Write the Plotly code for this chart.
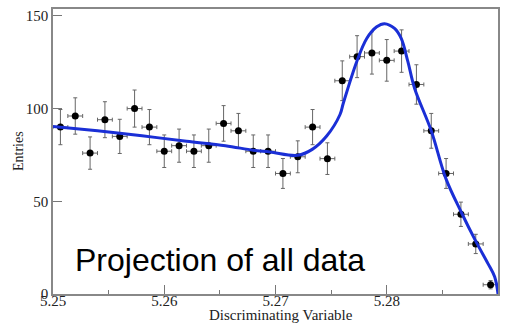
import numpy as np
import plotly.graph_objects as go

# ---- data ----
n_bins = 30
x_lo, x_hi = 5.25, 5.29
counts = [90, 96, 76, 94, 85, 100, 90, 77, 80, 77,
          80, 92, 88, 77, 77, 65, 74, 90, 73, 115,
          128, 130, 126, 131, 113, 88, 65, 43, 27, 5]

fit_x = [5.2500, 5.2540, 5.2580, 5.2620, 5.2655, 5.2680, 5.2695, 5.2720,
         5.2733, 5.2746, 5.2758, 5.2761, 5.2773, 5.2782, 5.2791, 5.2798,
         5.2807, 5.2813, 5.2819, 5.2825, 5.2840, 5.2853, 5.2867, 5.2880,
         5.2891, 5.2897, 5.2900]
fit_y = [90.4, 88.0, 85.3, 82.4, 80.0, 77.5, 76.6, 74.8,
         78.0, 85.2, 96.8, 103.0, 125.3, 137.8, 144.1, 145.8,
         143.2, 137.8, 125.3, 111.0, 88.0, 62.5, 44.1, 28.5,
         16.4, 9.3, 0.0]

x_ticks = [5.25, 5.26, 5.27, 5.28, 5.29]
x_tick_labels = ["5.25", "5.26", "5.27", "5.28", "5.29"]
y_ticks = [0, 50, 100, 150]
y_tick_labels = ["0", "50", "100", "150"]

bw = (x_hi - x_lo) / n_bins
centers = [x_lo + (i + 0.5) * bw for i in range(n_bins)]
yerr = [float(np.sqrt(c)) for c in counts]

fig = go.Figure()
fig.add_trace(go.Scatter(
    x=centers, y=counts, mode="markers",
    marker=dict(color="black", size=7),
    error_y=dict(type="data", array=yerr, color="#666666", thickness=1, width=2),
    error_x=dict(type="constant", value=bw / 2, color="#666666", thickness=1, width=2),
    showlegend=False,
))
fig.add_trace(go.Scatter(
    x=fit_x, y=fit_y, mode="lines",
    line=dict(color="#1a2fd6", width=3, shape="spline", smoothing=1.0),
    showlegend=False,
))

L, R, T, B = 52.5, 498.3, 7, 294
W, H = 510, 326

axis_font = dict(family="Liberation Serif", size=15, color="#222222")
fig.update_layout(
    width=W, height=H,
    margin=dict(l=L, r=W - R, t=T, b=H - B, pad=0),
    paper_bgcolor="white", plot_bgcolor="white",
    xaxis=dict(range=[x_lo, x_hi], tickvals=x_ticks, ticktext=x_tick_labels,
               ticks="inside", ticklen=9, tickcolor="#777777", tickwidth=1,
               ticklabelstandoff=-8,
               minor=dict(dtick=0.005, tick0=5.25, ticks="inside", ticklen=4,
                          tickcolor="#777777", showgrid=False),
               showline=True, linecolor="#888888", linewidth=1.5, mirror=True,
               showgrid=False, zeroline=False, tickfont=axis_font),
    yaxis=dict(range=[0, 153.7], tickvals=y_ticks, ticktext=y_tick_labels,
               ticks="inside", ticklen=9, tickcolor="#777777", tickwidth=1,
               showline=True, linecolor="#888888", linewidth=1.5, mirror=True,
               showgrid=False, zeroline=False, tickfont=axis_font),
)

pw, ph = R - L, B - T
fig.add_annotation(text="Discriminating Variable", xref="paper", yref="paper",
                   x=(281 - L) / pw, y=(B - 315) / ph, xanchor="center", yanchor="middle",
                   showarrow=False, font=dict(family="Liberation Serif", size=15, color="#222222"))
fig.add_annotation(text="Entries", xref="paper", yref="paper", textangle=-90,
                   x=(18 - L) / pw, y=0.5, xanchor="center", yanchor="middle",
                   showarrow=False, font=dict(family="Liberation Serif", size=14, color="#222222"))
fig.add_annotation(text="Projection of all data", xref="paper", yref="paper",
                   x=(219.5 - L) / pw, y=(B - 260) / ph, xanchor="center", yanchor="middle",
                   showarrow=False, font=dict(family="Liberation Sans", size=32, color="black"))

fig.write_html("out.html")
